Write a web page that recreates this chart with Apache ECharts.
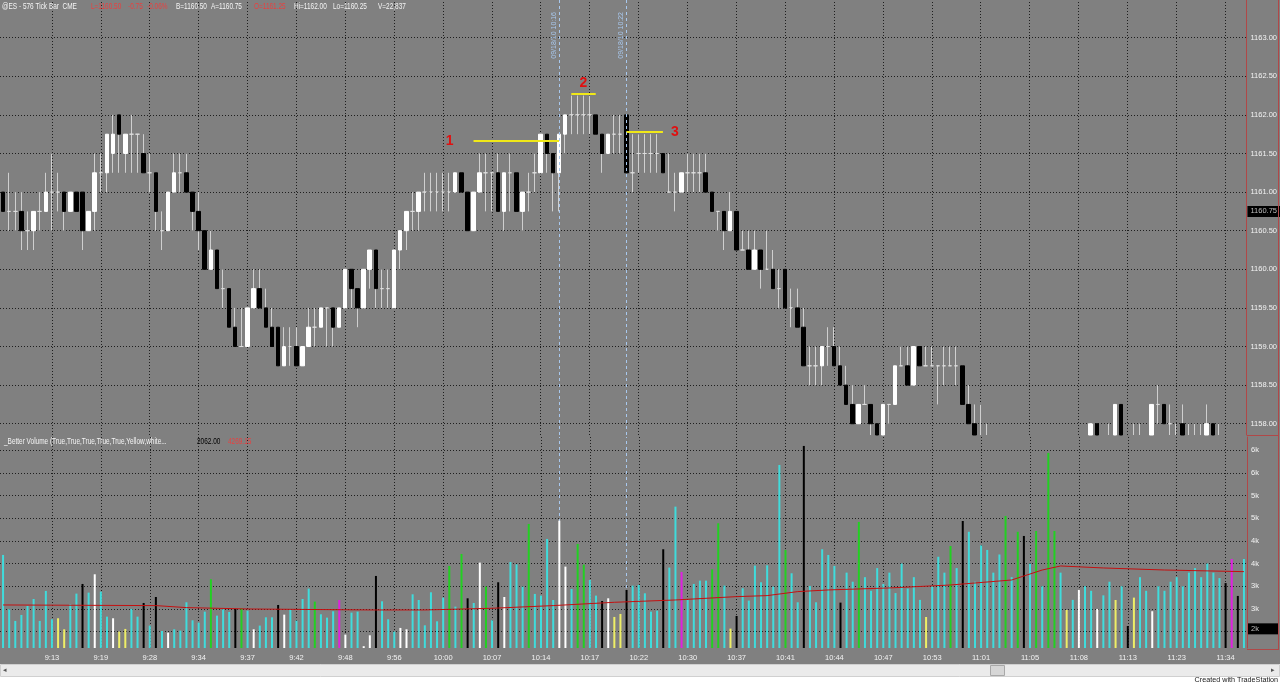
<!DOCTYPE html>
<html><head><meta charset="utf-8">
<script src="https://cdn.jsdelivr.net/npm/echarts@6/dist/echarts.min.js"></script>
<style>html,body{margin:0;padding:0;background:#fff;}#c{width:1280px;height:685px;}</style>
</head><body><div id="c"></div>
<script>
// ---------------- DATA ----------------
const tickIndex = [8,16,24,32,40,48,56,64,72,80,88,96,104,112,120,128,136,144,152,160,168,176,184,192,200];
const tickLabels = ['9:13','9:19','9:28','9:34','9:37','9:42','9:48','9:56','10:00','10:07','10:14','10:17','10:22','10:30','10:37','10:41','10:44','10:47','10:53','11:01','11:05','11:08','11:13','11:23','11:34'];
const priceTicks = [1158,1158.5,1159,1159.5,1160,1160.5,1161,1161.5,1162,1162.5,1163];
const volTicks = [2500,3000,3500,4000,4500,5000,5500,6000];
const volGrid = [2000,2500,3000,3500,4000,4500,5000,5500,6000];

const opens = [
1161,1160.75,1160.75,1160.75,1160.5,1160.5,1160.75,1160.75,1161,1161,
1161,1160.75,1161,1161,1160.5,1160.75,1161.25,1161.25,1161.5,1162,
1161.5,1161.75,1161.75,1161.5,1161.25,1161.25,1160.5,1160.5,1161,1161.25,
1161.25,1161,1160.75,1160.5,1160,1160.25,1159.75,1159.75,1159.25,1159,
1159,1159.5,1159.75,1159.5,1159.25,1159.25,1158.75,1159,1159,1158.75,
1159,1159.25,1159.25,1159.5,1159.5,1159.25,1159.5,1160,1159.75,1159.5,
1160,1160.25,1159.75,1159.75,1159.5,1160.25,1160.5,1160.75,1160.75,1161,
1161,1161,1161,1161,1161,1161.25,1161,1160.5,1161,1161.25,
1161.25,1161.25,1160.75,1161.25,1161.25,1160.75,1161,1161.25,1161.25,1161.75,
1161.5,1161.25,1161.75,1162,1162,1162,1162,1162,1161.75,1161.5,
1161.75,1161.75,1162,1161.25,1161.5,1161.5,1161.5,1161.5,1161.5,1161,
1161,1161,1161.25,1161.25,1161.25,1161.25,1161,1160.75,1160.75,1160.5,
1160.75,1160.25,1160.25,1160,1160.25,1160,1160,1159.75,1160,1159.5,
1159.5,1159.25,1158.75,1158.75,1158.75,1159,1159,1158.75,1158.5,1158.25,
1158,1158.25,1158.25,1158,1157.75,1158.25,1158.25,1158.75,1158.75,1158.5,
1159,1158.75,1158.75,1158.75,1158.75,1158.75,1158.75,1158.75,1158.25,1158,
1157.75,1157.75,1157.5,1157.5,1157.5,1157.5,1157.5,1157.5,1157.5,1157.5,
1157.5,1157.5,1157.5,1157.5,1157.5,1157.5,1157.5,1157.5,1157.75,1158,
1157.5,1157.75,1157.75,1158.25,1157.5,1157.75,1157.75,1157.5,1157.75,1158.25,
1158.25,1158,1157.75,1158,1157.75,1157.75,1157.75,1157.75,1158,1157.75,
1157.5,1157.5,1157.5,1157.5];
const closes = [
1160.75,1160.75,1160.75,1160.5,1160.5,1160.75,1160.75,1161,1161,1161,
1160.75,1161,1160.75,1160.5,1160.75,1161.25,1161.25,1161.75,1161.75,1161.75,
1161.75,1161.75,1161.75,1161.25,1161.25,1160.75,1160.5,1161,1161.25,1161.25,
1161,1160.75,1160.5,1160,1160.25,1159.75,1159.75,1159.25,1159,1159,
1159.5,1159.75,1159.5,1159.25,1159,1158.75,1159,1159,1158.75,1159,
1159.25,1159.25,1159.5,1159.5,1159.25,1159.5,1160,1159.75,1159.5,1160,
1160.25,1159.75,1159.75,1159.75,1160.25,1160.5,1160.75,1160.75,1161,1161,
1161,1161,1161,1161,1161.25,1161,1160.5,1161,1161.25,1161.25,
1161.25,1160.75,1161.25,1161.25,1160.75,1161,1161,1161.25,1161.75,1161.5,
1161.25,1161.75,1162,1162,1162,1162,1162,1161.75,1161.5,1161.75,
1161.75,1161.75,1161.25,1161.25,1161.5,1161.5,1161.5,1161.5,1161.25,1161,
1161,1161.25,1161.25,1161.25,1161.25,1161,1160.75,1160.75,1160.5,1160.75,
1160.25,1160.25,1160,1160.25,1160,1160,1159.75,1159.75,1159.5,1159.5,
1159.25,1158.75,1158.75,1158.75,1159,1159,1158.75,1158.5,1158.25,1158,
1158.25,1158.25,1158,1157.75,1158.25,1158.25,1158.75,1158.75,1158.5,1159,
1158.75,1158.75,1158.75,1158.75,1158.75,1158.75,1158.75,1158.25,1158,1157.75,
1157.75,1157.75,1157.5,1157.5,1157.5,1157.5,1157.5,1157.5,1157.5,1157.5,
1157.5,1157.5,1157.5,1157.5,1157.5,1157.5,1157.5,1157.5,1158,1157.75,
1157.5,1157.75,1158.25,1157.75,1157.5,1157.75,1157.75,1157.5,1158.25,1158.25,
1158,1158,1157.75,1157.75,1157.75,1157.75,1157.75,1158,1157.75,1157.75,
1157.5,1157.5,1157.5,1157.5];
const lows = [
1160.75,1160.5,1160.5,1160.25,1160.25,1160.25,1160.5,1160.75,1160.5,1160.75,
1160.5,1160.75,1160.75,1160.25,1160.5,1160.5,1161,1161,1161.25,1161.25,
1161.25,1161.25,1161.25,1161.25,1161,1160.5,1160.25,1160.5,1161,1161,
1161,1160.5,1160.25,1160,1160,1159.75,1159.5,1159.25,1159,1159,
1159,1159.5,1159.5,1159.25,1159,1158.75,1158.75,1158.75,1158.75,1158.75,
1159,1159,1159.25,1159,1159,1159.25,1159.5,1159.5,1159.25,1159.5,
1159.75,1159.5,1159.5,1159.5,1159.5,1160,1160.25,1160.5,1160.5,1160.75,
1160.75,1160.75,1160.75,1160.75,1161,1161,1160.5,1160.5,1161,1160.75,
1160.75,1160.75,1160.5,1160.75,1160.75,1160.5,1160.75,1161,1161.25,1161.25,
1160.75,1160.75,1161.5,1161.75,1161.75,1161.75,1161.75,1161.75,1161.25,1161.5,
1161.5,1161.5,1161.25,1161,1161.25,1161.25,1161.25,1161.25,1161.25,1161,
1160.75,1161,1161,1161,1161,1161,1160.75,1160.5,1160.25,1160.5,
1160.25,1160.25,1160,1160,1159.75,1160,1159.75,1159.5,1159.5,1159.25,
1159.25,1158.75,1158.5,1158.5,1158.5,1158.75,1158.75,1158.5,1158.25,1158,
1158,1158.25,1157.75,1157.75,1157.75,1158,1158.25,1158.75,1158.5,1158.5,
1158.75,1158.75,1158.75,1158.25,1158.5,1158.75,1158.5,1158.25,1158,1157.5,
1157.5,1157.5,1157.25,1157.25,1157.25,1157.25,1157.25,1157.25,1157.25,1157.25,
1157.25,1157.25,1157.25,1157.25,1157.25,1157.25,1157.25,1157.25,1157.5,1157.5,
1157.25,1157.5,1157.5,1157.5,1157.25,1157.5,1157.5,1157.25,1157.5,1158,
1158,1157.75,1157.5,1157.5,1157.5,1157.5,1157.5,1157.5,1157.5,1157.5,
1157.25,1157.25,1157.25,1157.25];
const highs = [
1161,1161.25,1161,1161,1160.75,1160.75,1161,1161.25,1161.5,1161.25,
1161,1161,1161,1161,1160.75,1161.5,1161.5,1161.75,1162,1162,
1161.75,1162,1161.75,1161.75,1161.5,1161.25,1160.75,1161,1161.5,1161.5,
1161.5,1161,1161,1160.5,1160.5,1160.25,1160,1159.75,1159.5,1159.5,
1159.5,1160,1160,1159.75,1159.5,1159.25,1159.25,1159.25,1159.25,1159,
1159.5,1159.5,1159.5,1159.5,1159.5,1159.5,1160,1160,1159.75,1160,
1160.25,1160.25,1160,1160,1160.25,1160.5,1160.75,1161,1161,1161.25,
1161.25,1161.25,1161.25,1161.25,1161.25,1161.25,1161,1161,1161.5,1161.5,
1161.25,1161.5,1161.25,1161.5,1161.25,1161,1161.25,1161.5,1161.75,1161.75,
1161.5,1161.75,1162,1162.25,1162.25,1162.25,1162.25,1162,1161.75,1161.75,
1162,1162,1162,1161.75,1161.75,1161.75,1161.75,1161.75,1161.5,1161.5,
1161.25,1161.25,1161.5,1161.5,1161.5,1161.5,1161,1160.75,1160.75,1161,
1160.75,1160.5,1160.5,1160.5,1160.25,1160.5,1160.25,1160,1160,1159.75,
1159.75,1159.5,1159,1159,1159,1159.25,1159.25,1159,1158.75,1158.5,
1158.25,1158.5,1158.25,1158,1158.25,1158.25,1158.75,1159,1159,1159,
1159,1159,1159,1158.75,1159,1159,1159,1158.75,1158.5,1158.25,
1158.25,1158,1157.75,1157.75,1157.75,1157.75,1157.75,1157.75,1157.75,1157.75,
1157.75,1157.75,1157.75,1157.75,1157.75,1157.75,1157.75,1157.75,1158,1158,
1157.75,1158,1158.25,1158.25,1157.75,1158,1158,1157.75,1158.25,1158.5,
1158.25,1158.25,1158,1158.25,1158,1158,1158,1158.25,1158,1158,
1157.75,1157.75,1157.75,1157.75];

const volumes = [
3690,2493,2236,2368,2566,2720,2236,2897,2273,2295,2052,2603,2838,3051,2860,3264,2882,2331,2295,2001,
2060,2500,2331,2632,2133,2764,2015,1979,2052,2023,2647,2250,2199,2441,3154,2353,2493,2434,2500,2515,
2463,2052,2133,2316,2316,2588,2375,2493,2243,2720,2948,2662,2383,2309,2449,2698,1935,2419,2441,1680,
1920,3227,2669,2273,2001,2082,2052,2823,2698,2140,2867,2228,2750,3447,2551,3712,2735,2632,3521,2992,
2250,3088,2764,3535,3484,2992,4373,2831,2794,4042,2698,4446,3433,2941,3932,3477,3139,2794,2676,2735,
2324,2390,2919,3014,3029,2845,2441,2463,3815,3411,4754,3315,2698,3051,3124,3124,3374,4387,3014,2067,
2346,2956,2684,3455,3088,3462,2992,5672,3800,3286,2647,6091,3007,2647,3815,3690,3447,2640,
3300,3100,4417,3200,2900,3400,3050,3300,2850,3500,2950,3200,2700,2323,3000,3650,3300,3887,3400,4438,
4200,3100,3900,3800,3300,3700,4549,3200,4200,4108,3500,4218,3000,5937,4218,3300,2478,2700,2919,3000,
2900,2500,2800,3100,2698,3000,2125,2750,3200,2900,2450,3000,2900,3100,3200,3000,3300,3400,3200,3500,
3300,3180,3070,3601,2787,3601];
const volColors = ('cccccccccy'+'ycckcwccwy'+'ycckckcwcc'+'ccccgccckg'+'cwccckwccc'+'cgcccmwccw'+'wkcccwwccc'+
  'cccgcgkcwg'+'ckwcccgccc'+'cwwcggcckw'+'yykccccckc'+'cmccccggcy'+'kcccccccgc'+'ckccccck'+
  'ccgccccccc'+'cccycccgck'+'ccccccgcgk'+'cgcggcycwc'+'cwccyckycc'+'wccccccccc'+'cckmkc').split('');

const avgIdx = [0,25,30,40,60,69,80,90,100,110,120,125,130,135,145,155,165,170,173,180,190,203];
const avgVal = [2588,2574,2530,2500,2478,2478,2515,2574,2647,2698,2772,2794,2882,2919,2963,3028,3138,3358,3447,3403,3358,3322];

const lastPrice = 1160.75, lastVolume = 2062;
const annotLines = [
  {name:'1', from:77, to:91, price:1161.66, pos:'start'},
  {name:'2', from:93, to:97, price:1162.27, pos:'insideMiddleTop'},
  {name:'3', from:102, to:108, price:1161.78, pos:'end'}
];
const timeMarks = [{idx:91, text:'09/18/10 10:16'},{idx:102, text:'09/18/10 10:22'}];

// ---------------- BUILD ----------------
const GRAY='#808080', WICK='#cfcfcf', DOJI='#dedede';
const COL = {c:'#3fdcdc', y:'#eeee66', w:'#ffffff', k:'#000000', g:'#22d022', m:'#e020e0'};
const priceMin = 1157.854, priceMax = 1163.488;
const volMin = 1640, volMax = 6288;
const FONT = 'Liberation Sans';
const clampP = (v) => Math.max(v, priceMin);

const cats = opens.map((_, i) => 'b' + i);
const wickData = opens.map((o, i) => {
  if (highs[i] <= priceMin) return '-';
  const l = clampP(lows[i]);
  return [l, l, l, highs[i]];
});
const bodyData = opens.map((o, i) => {
  const c = closes[i];
  if (Math.max(o, c) <= priceMin) return '-';
  if (o === c) return {value:[o, c, o, c], itemStyle:{color:DOJI, color0:DOJI, borderColor:DOJI, borderColor0:DOJI}};
  const oo = clampP(o), cc = clampP(c);
  return [oo, cc, Math.min(oo, cc), Math.max(oo, cc)];
});
const volData = volumes.map((v, i) => ({value:v, itemStyle:{color:COL[volColors[i]] || COL.c}}));
const avgData = avgIdx.map((x, k) => [x, avgVal[k]]);

const gridDot = {color:'#1e1e1e', type:[1,2], width:1};
const hidden = {width:0, color:'rgba(0,0,0,0)'};

const option = {
  animation:false,
  backgroundColor: GRAY,
  grid:[
    {left:0, top:0, width:1247, height:435},
    {left:0, top:437, width:1247, height:211}
  ],
  xAxis:[
    {type:'category', gridIndex:0, data:cats, boundaryGap:true, axisLine:{show:false}, axisTick:{show:false}, axisLabel:{show:false}, splitLine:{show:false}},
    {type:'category', gridIndex:1, data:cats, boundaryGap:true, axisLine:{show:false}, axisTick:{show:false}, splitLine:{show:false},
     axisLabel:{interval:(idx)=>tickIndex.indexOf(idx)>=0, formatter:(v, idx)=>tickLabels[tickIndex.indexOf(idx)] || '', color:'#f2f2f2', fontSize:7.5, fontFamily:FONT, margin:6}}
  ],
  yAxis:[
    {type:'value', gridIndex:0, position:'right', min:priceMin, max:priceMax, splitLine:{show:false}, axisTick:{show:false},
     axisLine:{show:true, lineStyle:{color:'#b04848', width:1}},
     axisLabel:{customValues:priceTicks, formatter:(v)=>v.toFixed(2), color:'#f2f2f2', fontSize:7.5, fontFamily:FONT, margin:4}},
    {type:'value', gridIndex:1, position:'right', min:volMin, max:volMax, splitLine:{show:false}, axisTick:{show:false},
     axisLine:{show:true, lineStyle:{color:'#b04848', width:1}},
     axisLabel:{customValues:volTicks, formatter:(v)=>Math.round(v/1000)+'k', color:'#f2f2f2', fontSize:7.5, fontFamily:FONT, margin:4}}
  ],
  series:[
    {type:'candlestick', name:'wick', xAxisIndex:0, yAxisIndex:0, data:wickData, barWidth:1, clip:true, z:2,
     itemStyle:{color:WICK, color0:WICK, borderColor:WICK, borderColor0:WICK, borderWidth:1},
     markLine:{z:1, silent:true, symbol:'none', label:{show:false}, lineStyle:gridDot,
       data:[...priceTicks.map(p=>({yAxis:p})), ...tickIndex.map(t=>({xAxis:t}))]}},
    {type:'candlestick', name:'body', xAxisIndex:0, yAxisIndex:0, data:bodyData, barWidth:4, clip:true, z:3,
     itemStyle:{color:'#ffffff', color0:'#000000', borderColor:'#ffffff', borderColor0:'#000000', borderWidth:1},
     markLine:{z:6, silent:true, symbol:'none', animation:false,
       data:[
         ...annotLines.map(a=>[
           {coord:[a.from, a.price], lineStyle:{color:'#f0e818', width:2, type:'solid'},
            label:{show:true, formatter:a.name, position:a.pos, distance:a.pos==='start'?20:(a.pos==='end'?8:4), color:'#e01010', fontSize:14, fontWeight:'bold', fontFamily:FONT}},
           {coord:[a.to, a.price]}]),
         ...timeMarks.map(m=>({xAxis:m.idx, lineStyle:{color:'#a8c8ee', width:1, type:[3,3]},
            label:{show:true, formatter:m.text, position:'insideEndTop', color:'#a8c8ee', fontSize:7, fontFamily:FONT, distance:2, padding:[0,10,0,0]}})),
         {yAxis:lastPrice, lineStyle:hidden, label:{show:true, position:'end', distance:1, formatter:lastPrice.toFixed(2), backgroundColor:'#000', color:'#bdbdbd', padding:[2,4,1,3], fontSize:7.5, fontFamily:FONT}}
       ]}},
    {type:'bar', name:'volume', xAxisIndex:1, yAxisIndex:1, data:volData, barWidth:2, clip:true, z:2,
     markLine:{z:1, silent:true, symbol:'none', label:{show:false}, lineStyle:gridDot,
       data:[...volGrid.map(v=>({yAxis:v})), ...tickIndex.map(t=>({xAxis:t})),
         ...timeMarks.map(m=>({xAxis:m.idx, lineStyle:{color:'#a8c8ee', width:1, type:[3,3]}}))]}},
    {type:'line', name:'avg', xAxisIndex:1, yAxisIndex:1, data:avgData, symbol:'none', z:4,
     lineStyle:{color:'#c41010', width:1},
     markLine:{z:6, silent:true, symbol:'none',
       data:[{yAxis:lastVolume, lineStyle:hidden, label:{show:true, position:'end', distance:1, formatter:Math.round(lastVolume/1000)+'k', backgroundColor:'#000', color:'#bdbdbd', padding:[2,20,1,3], fontSize:7.5, fontFamily:FONT}}]}}
  ],
  graphic:[
    ...[
      ['@ES - 576 Tick Bar  CME', 2, '#f4f4f4'], ['L=1160.50', 91, '#e84040'], ['-0.75', 128, '#e84040'], ['-0.06%', 147, '#e84040'],
      ['B=1160.50', 176, '#f4f4f4'], ['A=1160.75', 211, '#f4f4f4'], ['O=1161.25', 254, '#e84040'], ['Hi=1162.00', 294, '#f4f4f4'],
      ['Lo=1160.25', 333, '#f4f4f4'], ['V=22,837', 378, '#f4f4f4']
    ].map(t=>({type:'text', x:t[1], y:7, scaleX:0.76, z:10, style:{text:t[0], fill:t[2], font:'8.5px "Liberation Sans"', verticalAlign:'middle'}})),
    ...[
      ['_Better Volume (True,True,True,True,True,Yellow,white...', 4, '#f4f4f4'], ['2062.00', 197, '#000000'], ['4269.15', 228, '#e84040']
    ].map(t=>({type:'text', x:t[1], y:442, scaleX:0.76, z:10, style:{text:t[0], fill:t[2], font:'8.5px "Liberation Sans"', verticalAlign:'middle'}})),
    {type:'line', z:10, shape:{x1:1278.5, y1:0, x2:1278.5, y2:650}, style:{stroke:'#b04848', lineWidth:1}},
    {type:'line', z:10, shape:{x1:1247, y1:435.5, x2:1279, y2:435.5}, style:{stroke:'#b04848', lineWidth:1}},
    {type:'line', z:10, shape:{x1:1247, y1:649.5, x2:1279, y2:649.5}, style:{stroke:'#b04848', lineWidth:1}},
    {type:'rect', z:10, shape:{x:0, y:664, width:1280, height:21}, style:{fill:'#ffffff'}},
    {type:'rect', z:11, shape:{x:0.5, y:664.5, width:1279, height:12}, style:{fill:'#ebebeb', stroke:'#d0d0d0', lineWidth:1}},
    {type:'rect', z:12, shape:{x:990.5, y:665.5, width:14, height:10}, style:{fill:'#d6d6d6', stroke:'#a8a8a8', lineWidth:1}},
    {type:'text', z:12, x:3, y:670, style:{text:'◂', fill:'#555', font:'7px "DejaVu Sans"', verticalAlign:'middle'}},
    {type:'text', z:12, x:1271, y:670, style:{text:'▸', fill:'#555', font:'7px "DejaVu Sans"', verticalAlign:'middle'}},
    {type:'text', z:12, x:1278, y:680, scaleX:0.9, style:{text:'Created with TradeStation', fill:'#202020', font:'8px "Liberation Sans"', align:'right', verticalAlign:'middle'}}
  ]
};
const chart = echarts.init(document.getElementById('c'), null, {renderer:'canvas'});
chart.setOption(option);
</script></body></html>
